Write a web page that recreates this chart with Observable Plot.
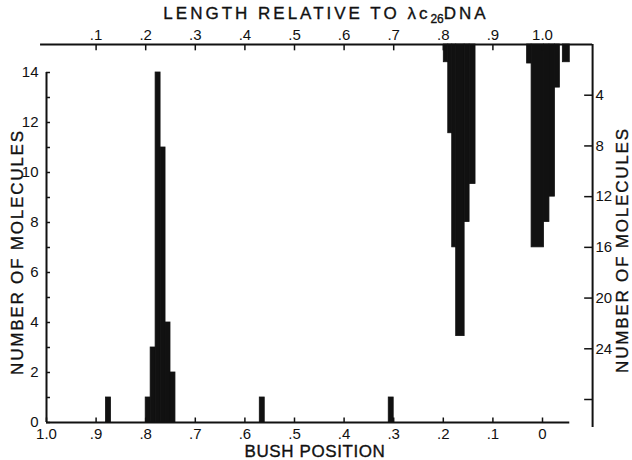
<!DOCTYPE html>
<html><head><meta charset="utf-8">
<script src="https://cdn.jsdelivr.net/npm/d3@7"></script>
<script src="https://cdn.jsdelivr.net/npm/@observablehq/plot@0.6"></script>
<style>
body{margin:0;background:#fff;}
#wrap{position:relative;width:632px;height:460px;font-family:"Liberation Sans",Arial,sans-serif;color:#111;}
#wrap svg{position:absolute;left:0;top:0;}
.t{position:absolute;white-space:nowrap;font-size:17px;line-height:1;-webkit-text-stroke:0.35px #111;}
.t sub{font-size:12px;vertical-align:-4px;letter-spacing:0;}
</style></head><body>
<div id="wrap">
  <div class="t" style="left:326px;top:5px;transform:translateX(-50%);letter-spacing:3px;">LENGTH RELATIVE TO λc<sub>26</sub>DNA</div>
  <div class="t" style="left:315px;top:443px;transform:translateX(-50%);letter-spacing:0.6px;">BUSH POSITION</div>
  <div class="t" style="left:17px;top:252px;transform:translate(-50%,-50%) rotate(-90deg);letter-spacing:1.8px;">NUMBER OF MOLECULES</div>
  <div class="t" style="left:622px;top:250px;transform:translate(-50%,-50%) rotate(-90deg);letter-spacing:1.8px;">NUMBER OF MOLECULES</div>
</div>
<script>
// ---- bottom / left axes (bush position, upward bars) ----
const bushTicks = [1.0, 0.9, 0.8, 0.7, 0.6, 0.5, 0.4, 0.3, 0.2, 0.1, 0];
const bushLabels = ["1.0", ".9", ".8", ".7", ".6", ".5", ".4", ".3", ".2", ".1", "0"];
const leftTicks = [0,1,2,3,4,5,6,7,8,9,10,11,12,13,14];
const leftLabelTicks = [0,2,4,6,8,10,12,14];
const bushBinStart = [0.88, 0.80, 0.79, 0.78, 0.77, 0.76, 0.75, 0.57, 0.31];
const bushBinEnd   = [0.87, 0.79, 0.78, 0.77, 0.76, 0.75, 0.74, 0.56, 0.30];
const bushCount    = [1, 1, 3, 14, 11, 4, 2, 1, 1];
const bushAxisExtent = [1.0, -0.055];
const leftAxisExtent = [0, 14];

// ---- top / right axes (relative length, downward bars) ----
const lengthTicks = [0.1, 0.2, 0.3, 0.4, 0.5, 0.6, 0.7, 0.8, 0.9, 1.0];
const lengthLabels = [".1", ".2", ".3", ".4", ".5", ".6", ".7", ".8", ".9", "1.0"];
const rightTicks = [4, 8, 12, 16, 20, 24, 28];
const rightLabelTicks = [4, 8, 12, 16, 20, 24];
const lenBinStart = [0.801, 0.810, 0.818, 0.826, 0.843, 0.853, 0.969, 0.978, 1.003, 1.014, 1.025, 1.041];
const lenBinEnd   = [0.810, 0.818, 0.826, 0.843, 0.853, 0.865, 0.978, 1.003, 1.014, 1.025, 1.035, 1.055];
const lenCount    = [1.4, 7, 16, 23, 14, 11, 1.5, 16, 14, 12, 3.4, 1.4];
const lengthAxisExtent = [-0.012, 1.101];
const rightAxisExtent = [0, 30.2];

const bushBins = bushCount.map((n, i) => ({x1: bushBinStart[i], x2: bushBinEnd[i], n}));
const lenBins = lenCount.map((n, i) => ({x1: lenBinStart[i], x2: lenBinEnd[i], n}));
const bushLabelOf = new Map(bushTicks.map((d, i) => [d, bushLabels[i]]));
const lengthLabelOf = new Map(lengthTicks.map((d, i) => [d, lengthLabels[i]]));

const style = {fontFamily: "'Liberation Sans', Arial, sans-serif", fontSize: "15px", color: "#111", background: "transparent", overflow: "visible"};
const ink = "#111";
const txt = {fill: ink, stroke: ink, strokeWidth: 0.35, fontSize: 15};
const bar = {fill: ink, stroke: ink, strokeWidth: 0.8, inset: 0};

const p1 = Plot.plot({
  width: 632, height: 460, marginTop: 72, marginBottom: 38, marginLeft: 46, marginRight: 40,
  x: {domain: [1, 0], range: [46, 542]},
  y: {domain: [0, 14], range: [422, 72]},
  style,
  marks: [
    Plot.rect(bushBins, {x1: "x1", x2: "x2", y1: 0, y2: "n", ...bar}),
    Plot.ruleX([bushAxisExtent[0]], {y1: leftAxisExtent[0], y2: leftAxisExtent[1], stroke: ink, strokeWidth: 2}),
    Plot.ruleY([0], {x1: bushAxisExtent[0], x2: bushAxisExtent[1], stroke: ink, strokeWidth: 2}),
    Plot.ruleX(bushTicks, {x: d => d, y1: 0, y2: 0.18, stroke: ink, strokeWidth: 1.5}),
    Plot.ruleY(leftTicks, {y: d => d, x1: 1, x2: 0.992, stroke: ink, strokeWidth: 1.5}),
    Plot.axisX({anchor: "bottom", ticks: bushTicks, tickSize: 0, tickPadding: 6, tickFormat: d => bushLabelOf.get(d), label: null, ...txt}),
    Plot.axisY({anchor: "left", ticks: leftLabelTicks, tickSize: 0, tickPadding: 8, label: null, ...txt})
  ]
});

const p2 = Plot.plot({
  width: 632, height: 460, marginTop: 44, marginBottom: 40, marginLeft: 46, marginRight: 40,
  x: {domain: [0, 1], range: [46, 542]},
  y: {domain: [0, 28], range: [44, 399]},
  style,
  marks: [
    Plot.rect(lenBins, {x1: "x1", x2: "x2", y1: 0, y2: "n", ...bar}),
    Plot.ruleY([0], {x1: lengthAxisExtent[0], x2: lengthAxisExtent[1], stroke: ink, strokeWidth: 2}),
    Plot.ruleX([lengthAxisExtent[1]], {y1: rightAxisExtent[0], y2: rightAxisExtent[1], stroke: ink, strokeWidth: 2}),
    Plot.ruleX(lengthTicks, {x: d => d, y1: 0, y2: 0.5, stroke: ink, strokeWidth: 1.5}),
    Plot.ruleY(rightTicks, {y: d => d, x1: lengthAxisExtent[1], x2: lengthAxisExtent[1] - 0.016, stroke: ink, strokeWidth: 1.5}),
    Plot.axisX({anchor: "top", ticks: lengthTicks, tickSize: 0, tickPadding: 5, tickFormat: d => lengthLabelOf.get(d), label: null, ...txt}),
    Plot.axisY({anchor: "right", ticks: rightLabelTicks, tickSize: 0, tickPadding: 3, label: null, ...txt})
  ]
});

const wrap = document.getElementById("wrap");
wrap.appendChild(p1);
wrap.appendChild(p2);
</script>
</body></html>
